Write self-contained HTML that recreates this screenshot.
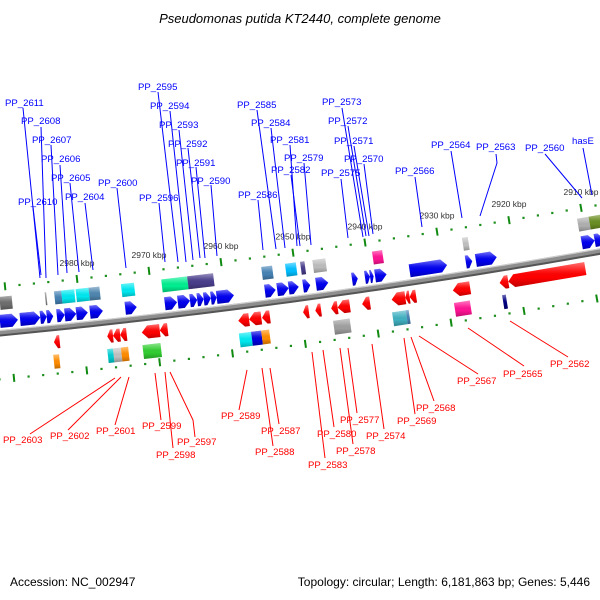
<!DOCTYPE html>
<html><head><meta charset="utf-8"><style>
html,body{margin:0;padding:0;background:#fff;}
svg{display:block;font-family:"Liberation Sans",sans-serif;}
</style></head><body>
<svg id="chart" width="600" height="600" viewBox="0 0 600 600" xmlns="http://www.w3.org/2000/svg">
<defs>
<linearGradient id="shine" x1="0" y1="0" x2="0" y2="1">
<stop offset="0" stop-color="#fff" stop-opacity="0.45"/>
<stop offset="0.35" stop-color="#fff" stop-opacity="0.1"/>
<stop offset="0.6" stop-color="#000" stop-opacity="0"/>
<stop offset="1" stop-color="#000" stop-opacity="0.25"/>
</linearGradient>
</defs>
<rect width="600" height="600" fill="#fff"/>
<text x="300" y="23" text-anchor="middle" font-size="13" font-style="italic" fill="#000">Pseudomonas putida KT2440, complete genome</text>
<g id="track"></g>
<g id="leaders" stroke-width="1">
<g stroke="#0000ff">
<polyline points="23,108 40,278" fill="none"/><polyline points="41,127 46,278" fill="none"/>
<polyline points="51,145 58,275" fill="none"/><polyline points="60,165 67,273" fill="none"/>
<polyline points="70,183 79,272" fill="none"/><polyline points="85,203 93,270" fill="none"/>
<polyline points="33,207 41,275" fill="none"/><polyline points="117,188 126,268" fill="none"/>
<polyline points="158,92 178,262" fill="none"/><polyline points="170,111 186,262" fill="none"/>
<polyline points="179,130 193,260" fill="none"/><polyline points="188,148 200,258" fill="none"/>
<polyline points="196,167 205,258" fill="none"/><polyline points="211,185 217,256" fill="none"/>
<polyline points="159,203 165,262" fill="none"/><polyline points="257,110 276,249" fill="none"/>
<polyline points="271,128 285,248" fill="none"/><polyline points="290,145 297,246" fill="none"/>
<polyline points="304,163 311,245" fill="none"/><polyline points="291,175 300,246" fill="none"/>
<polyline points="258,200 263,250" fill="none"/><polyline points="342,108 363,237" fill="none"/>
<polyline points="348,126 366,236" fill="none"/><polyline points="354,146 369,236" fill="none"/>
<polyline points="364,164 373,234" fill="none"/><polyline points="341,179 348,238" fill="none"/>
<polyline points="415,177 422,227" fill="none"/><polyline points="451,151 462,218" fill="none"/>
<polyline points="496,154 497,163 480,216" fill="none"/><polyline points="545,154 582,198" fill="none"/>
<polyline points="583,148 592,195" fill="none"/>
</g>
<g stroke="#ff0000">
<polyline points="115,378 30,434" fill="none"/><polyline points="121,377 68,430" fill="none"/>
<polyline points="129,377 115,425" fill="none"/><polyline points="155,373 161,420" fill="none"/>
<polyline points="165,372 173,448" fill="none"/><polyline points="170,372 193,420 195,437" fill="none"/>
<polyline points="247,370 239,410" fill="none"/><polyline points="262,368 273,446" fill="none"/>
<polyline points="270,368 279,424" fill="none"/><polyline points="312,352 325,458" fill="none"/>
<polyline points="323,350 334,427" fill="none"/><polyline points="340,348 353,444" fill="none"/>
<polyline points="348,348 357,413" fill="none"/><polyline points="372,344 384,429" fill="none"/>
<polyline points="404,338 415,414" fill="none"/><polyline points="411,337 434,401" fill="none"/>
<polyline points="419,336 478,374" fill="none"/><polyline points="468,328 524,366" fill="none"/>
<polyline points="510,321 568,357" fill="none"/>
</g>
</g>
<g font-size="9.6" fill="#0000ff">
<text x="5" y="106">PP_2611</text>
<text x="21" y="124">PP_2608</text>
<text x="32" y="143">PP_2607</text>
<text x="41" y="162">PP_2606</text>
<text x="51" y="181">PP_2605</text>
<text x="65" y="200">PP_2604</text>
<text x="18" y="205">PP_2610</text>
<text x="98" y="186">PP_2600</text>
<text x="138" y="90">PP_2595</text>
<text x="150" y="109">PP_2594</text>
<text x="159" y="128">PP_2593</text>
<text x="168" y="147">PP_2592</text>
<text x="176" y="166">PP_2591</text>
<text x="191" y="184">PP_2590</text>
<text x="139" y="201">PP_2596</text>
<text x="237" y="108">PP_2585</text>
<text x="251" y="126">PP_2584</text>
<text x="270" y="143">PP_2581</text>
<text x="284" y="161">PP_2579</text>
<text x="271" y="173">PP_2582</text>
<text x="238" y="198">PP_2586</text>
<text x="322" y="105">PP_2573</text>
<text x="328" y="124">PP_2572</text>
<text x="334" y="144">PP_2571</text>
<text x="344" y="162">PP_2570</text>
<text x="321" y="176">PP_2575</text>
<text x="395" y="174">PP_2566</text>
<text x="431" y="148">PP_2564</text>
<text x="476" y="150">PP_2563</text>
<text x="525" y="151">PP_2560</text>
<text x="572" y="144">hasE</text>
</g>
<g font-size="9.6" fill="#ff0000">
<text x="3" y="443">PP_2603</text>
<text x="50" y="439">PP_2602</text>
<text x="96" y="434">PP_2601</text>
<text x="142" y="429">PP_2599</text>
<text x="156" y="458">PP_2598</text>
<text x="177" y="445">PP_2597</text>
<text x="221" y="419">PP_2589</text>
<text x="255" y="455">PP_2588</text>
<text x="261" y="434">PP_2587</text>
<text x="308" y="468">PP_2583</text>
<text x="317" y="437">PP_2580</text>
<text x="336" y="454">PP_2578</text>
<text x="340" y="423">PP_2577</text>
<text x="366" y="439">PP_2574</text>
<text x="397" y="424">PP_2569</text>
<text x="416" y="411">PP_2568</text>
<text x="457" y="384">PP_2567</text>
<text x="503" y="377">PP_2565</text>
<text x="550" y="367">PP_2562</text>
</g>
<text x="10" y="586" font-size="12" fill="#000">Accession: NC_002947</text>
<text x="590" y="586" font-size="12" fill="#000" text-anchor="end">Topology: circular; Length: 6,181,863 bp; Genes: 5,446</text>
</svg>
<script>
// data (kbp)
const majorTicks = [2990, 2980, 2970, 2960, 2950, 2940, 2930, 2920, 2910];
const majorLabels = ["","2980 kbp","2970 kbp","2960 kbp","2950 kbp","2940 kbp","2930 kbp","2920 kbp","2910 kbp"];
const minorStart = 2992, minorEnd = 2906, minorStep = 2;
const fwdGenes = [[2990.7,2988.2],[2987.9,2985.1],[2985.1,2984.2],[2984.2,2983.3],[2982.8,2981.7],[2981.7,2980.1],[2980.1,2978.5],[2978.2,2976.4],[2973.3,2971.7],[2967.8,2966.1],[2966.0,2964.3],[2964.3,2963.3],[2963.3,2962.4],[2962.4,2961.4],[2961.4,2960.6],[2960.6,2958.2],[2953.9,2952.4],[2952.2,2950.6],[2950.6,2949.2],[2948.6,2947.6],[2946.8,2945.1],[2941.8,2941.0],[2940.0,2939.3],[2939.3,2938.8],[2938.6,2937.0],[2933.8,2928.6],[2926.0,2925.1],[2924.6,2921.7],[2909.9,2908.1],[2908.1,2906.8]];
const revGenes = [[2983.2,2982.4],[2975.8,2975.0],[2975.0,2974.0],[2974.0,2973.1],[2971.0,2968.5],[2968.5,2967.4],[2957.6,2956.1],[2956.1,2954.4],[2954.3,2953.2],[2948.6,2947.8],[2946.9,2946.1],[2944.7,2943.8],[2943.8,2942.1],[2940.4,2939.3],[2936.3,2934.4],[2934.4,2933.8],[2933.8,2932.9],[2927.8,2925.4],[2921.3,2920.1],[2920.1,2909.4]];
const upperBoxes = [[2990.7,2989.0],[2984.4,2984.2],[2983.1,2982.1],[2982.1,2980.3],[2980.1,2978.3],[2978.3,2976.8],[2973.8,2972.0],[2968.2,2964.6],[2964.6,2961.0],[2954.3,2952.8],[2951.0,2949.5],[2948.9,2948.3],[2947.2,2945.4],[2938.9,2937.5],[2926.4,2925.6],[2910.4,2908.8],[2908.8,2906.8]];
const upperColors = ["#6e6e6e","#888888","#4682b4","#00e8f0","#00e8f0","#4f86b0","#00e8f0","#00ee90","#483d8b","#4682b4","#00bfff","#483d8b","#bdbdbd","#ff1493","#c0c0c0","#b0b0b0","#6b8e23"];
const lowerBoxes = [[2983.2,2982.4],[2975.7,2974.9],[2974.9,2973.8],[2973.8,2972.8],[2970.8,2968.3],[2957.4,2955.7],[2955.7,2954.3],[2954.3,2953.2],[2944.3,2942.0],[2936.1,2934.2],[2934.2,2933.8],[2927.5,2925.3],[2920.8,2920.3]];
const lowerColors = ["#ff8c00","#00ced1","#c0c0c0","#ff8c00","#32cd32","#00e8f0","#0000dd","#ff8c00","#a0a0a0","#40b0c0","#4682b4","#ff1493","#000080"];

const NS = "http://www.w3.org/2000/svg";
const track = document.getElementById('track');
const a0 = 0.096, kap = 1.3e-4, Y0 = 333;
function P(u, v){ const a = a0 + kap*u; return [(Math.sin(a)-Math.sin(a0))/kap + v*Math.sin(a), Y0 + (Math.cos(a)-Math.cos(a0))/kap + v*Math.cos(a)]; }
function xOf(k){ return 77 + (2980 - k) * 7.2; }
function uOf(x, v){ let u = x; for (let i=0;i<5;i++){ u += (x - P(u,v)[0]) / Math.cos(a0+kap*u); } return u; }
function pts(list){ return list.map(p => P(p[0],p[1]).map(n=>n.toFixed(2)).join(',')).join(' '); }
function mk(tag, attrs){ const e = document.createElementNS(NS, tag); for (const k in attrs) e.setAttribute(k, attrs[k]); return e; }

const bb = []; for (let u=-20; u<=640; u+=10) bb.push([u,0]);
const bbMain = mk('polyline', {points: pts(bb), fill:'none', stroke:'#8e8e8e', 'stroke-width':'6'});


track.appendChild(bbMain);
const bbDark = mk('polyline', {points: pts(bb.map(p=>[p[0],2.5])), fill:'none', stroke:'#555', 'stroke-width':'2'});


track.appendChild(bbDark);
const bbLight = mk('polyline', {points: pts(bb.map(p=>[p[0],-2.5])), fill:'none', stroke:'#cfcfcf', 'stroke-width':'1.2'});


track.appendChild(bbLight);

const tickG = mk('g', {fill:'#1e8f1e', stroke:'none'});


track.appendChild(tickG);
for (let k = minorStart; k >= minorEnd; k -= minorStep){
  const u = uOf(xOf(k), -46);
  const isMajor = majorTicks.indexOf(k) >= 0;
  [-46, 46].forEach(v => {
    let el;
    if (isMajor){
      el = mk('polyline', {points: pts([[u,v-4],[u,v+4]]), stroke:'#118a11', 'stroke-width':'2', fill:'none'});
      
    } else {
      const c = P(u, v);
      el = mk('rect', {x:(c[0]-1).toFixed(2), y:(c[1]-1).toFixed(2), width:'2.2', height:'2.2'});
      
    }
    
    tickG.appendChild(el);
  });
}
majorTicks.forEach((k, i) => {
  if (!majorLabels[i]) return;
  const u = uOf(xOf(k), -46); const c = P(u, -46);
  const t = mk('text', {x:c[0].toFixed(1), y:(c[1]-13).toFixed(1), 'text-anchor':'middle', 'font-size':'8.5', fill:'#333'});
  t.textContent = majorLabels[i];
  
  
  track.appendChild(t);
});

function drawArrow(k1, k2, vTop, vBot, color, dir, name){
  const vm = (vTop+vBot)/2;
  const u1 = uOf(xOf(k1), vm), u2 = uOf(xOf(k2), vm);
  const hl = Math.min(6, (u2-u1)*0.6);
  let shape;
  if (dir > 0) shape = [[u1,vTop],[u2-hl,vTop],[u2,vm],[u2-hl,vBot],[u1,vBot]];
  else shape = [[u1,vm],[u1+hl,vTop],[u2,vTop],[u2,vBot],[u1+hl,vBot]];
  const g = mk('g', {});
  
  
  g.appendChild(mk('polygon', {points: pts(shape), fill: color}));
  g.appendChild(mk('polygon', {points: pts(shape), fill: 'url(#shine)'}));
  track.appendChild(g);
}
function drawBox(k1, k2, vTop, vBot, color, name){
  const vm = (vTop+vBot)/2;
  const u1 = uOf(xOf(k1), vm), u2 = uOf(xOf(k2), vm);
  const shape = [[u1,vTop],[u2,vTop],[u2,vBot],[u1,vBot]];
  const g = mk('g', {});
  
  
  g.appendChild(mk('polygon', {points: pts(shape), fill: color}));
  g.appendChild(mk('polygon', {points: pts(shape), fill: 'url(#shine)'}));
  track.appendChild(g);
}
fwdGenes.forEach(g => drawArrow(g[0], g[1], -18, -5, '#0000ee', 1, 'forward-gene'));
revGenes.forEach(g => drawArrow(g[0], g[1], 8, 21, '#ff0000', -1, 'reverse-gene'));
upperBoxes.forEach((b, i) => drawBox(b[0], b[1], -36, -23, upperColors[i], 'forward-feature-box'));
lowerBoxes.forEach((b, i) => drawBox(b[0], b[1], 27, 41, lowerColors[i], 'reverse-feature-box'));
</script>
</body></html>
